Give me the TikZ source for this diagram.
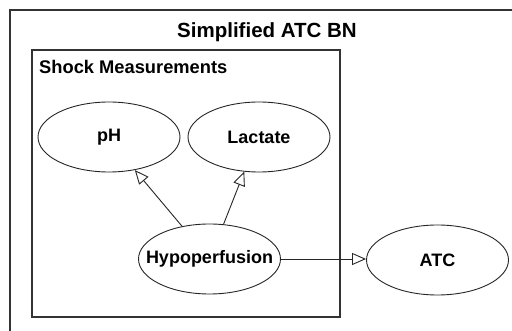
\documentclass[tikz,border=0pt]{standalone}
\usepackage{fontspec}
\setmainfont{Liberation Sans}
\usetikzlibrary{shapes.geometric,arrows.meta}
\begin{document}
\begin{tikzpicture}[x=1pt,y=-1pt,
  frame/.style={draw=black!80, line width=1.1pt},
  bnnode/.style={ellipse, draw=black!85, line width=0.9pt, minimum width=142pt, minimum height=70pt, inner sep=0pt, font=\fontsize{18}{20}\selectfont\bfseries},
  edge/.style={draw=black!85, line width=0.9pt, -{Triangle[open, length=14pt, width=12pt]}}]
\useasboundingbox (0,0) rectangle (512,331);
\fill[white] (0,0) rectangle (512,331);
% outer frame (extends past image)
\draw[frame] (10,340) -- (10,10) -- (520,10);
\node[anchor=base, font=\fontsize{20.5}{23}\selectfont\bfseries] (title) at (267,37.5) {Simplified ATC BN};
% inner group
\draw[frame] (32,50) rectangle (340,317);
\node[anchor=base west, inner sep=0pt, font=\fontsize{18.3}{20}\selectfont\bfseries] (group) at (39,73.3) {Shock Measurements};
% nodes
\node[bnnode] (ph) at (109,137) {\makebox[0pt]{pH}};
\node[bnnode] (lac) at (259,137) {\makebox[0pt]{Lactate}};
\node[bnnode] (hyp) at (209.5,259) {\makebox[0pt]{Hypoperfusion}};
\node[bnnode] (atc) at (437.5,260) {\makebox[0pt]{ATC}};
% edges
\draw[edge] (hyp.130.5) -- (ph.-52.7);
\draw[edge] (hyp.68.5) -- (lac.247.8);
\draw[edge] (hyp.east) -- (hyp.east -| atc.west);
\end{tikzpicture}
\end{document}
